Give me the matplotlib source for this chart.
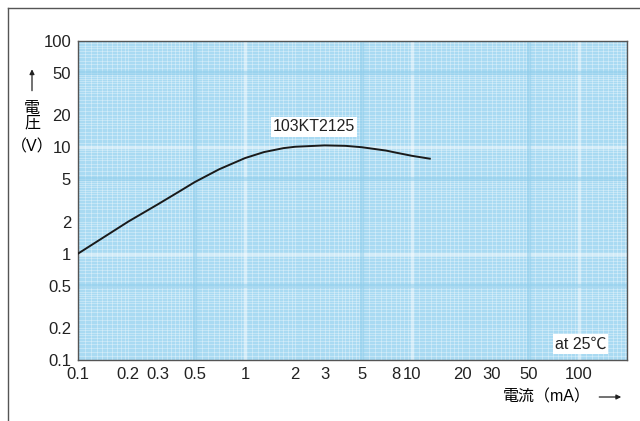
import matplotlib
matplotlib.use("Agg")
import matplotlib.pyplot as plt
import numpy as np
from matplotlib.lines import Line2D

plt.rcParams["font.family"] = ["Liberation Sans", "Noto Sans CJK JP", "DejaVu Sans"]

# current (mA) vs voltage (V)
current_ma = [0.1, 0.15, 0.2, 0.3, 0.4, 0.5, 0.7, 1.0, 1.3, 1.7, 2.0, 3.0, 4.0, 5.0, 7.0, 8.0, 10.0, 12.8]
voltage_v = [1.0, 1.5, 2.0, 2.9, 3.8, 4.7, 6.2, 7.9, 9.0, 9.8, 10.1, 10.4, 10.3, 10.0, 9.3, 8.9, 8.3, 7.8]

x_ticks = [0.1, 0.2, 0.3, 0.5, 1, 2, 3, 5, 8, 10, 20, 30, 50, 100]
x_labels = ["0.1", "0.2", "0.3", "0.5", "1", "2", "3", "5", "8", "10", "20", "30", "50", "100"]
y_ticks = [0.1, 0.2, 0.5, 1, 2, 5, 10, 20, 50, 100]
y_labels = ["0.1", "0.2", "0.5", "1", "2", "5", "10", "20", "50", "100"]

series_name = "103KT2125"
note = "at 25℃"

fig = plt.figure(figsize=(6.4, 4.21), dpi=100)
ax = fig.add_axes([0.122, 0.145, 0.858, 0.758])

ax.set_xscale("log")
ax.set_yscale("log")
ax.set_xlim(0.1, 195)
ax.set_ylim(0.1, 100)
ax.set_facecolor("#a9daf2")

# log paper look: fine lines inside each decade
fine = []
for dec in [0.1, 1, 10, 100]:
    fine += list(np.arange(1.1, 2.0, 0.1) * dec) + list(np.arange(2.0, 5.0, 0.2) * dec) + list(np.arange(5.0, 10.0, 0.5) * dec)
for v in fine:
    if 0.1 < v < 195:
        ax.axvline(v, color="white", lw=0.45, alpha=0.5, zorder=0)
    if 0.1 < v < 100:
        ax.axhline(v, color="white", lw=0.45, alpha=0.5, zorder=0)
for v in [1, 10, 100]:
    ax.axvline(v, color="white", lw=2.5, alpha=0.5, zorder=0)
for v in [1, 10]:
    ax.axhline(v, color="white", lw=2.5, alpha=0.5, zorder=0)
for v in [0.5, 5, 50]:
    ax.axvline(v, color="#8fcdeb", lw=3, alpha=0.5, zorder=0)
    ax.axhline(v, color="#8fcdeb", lw=3, alpha=0.5, zorder=0)

ax.plot(current_ma, voltage_v, color="#1a1a1a", lw=1.4, zorder=3)

ax.text(2.6, 15.5, series_name, fontsize=11.5, ha="center", va="center", zorder=4,
        color="#222222", bbox=dict(facecolor="white", edgecolor="none", pad=1.5))
ax.text(0.962, 0.05, note, transform=ax.transAxes, fontsize=11.5, ha="right", va="center",
        zorder=4, color="#222222", bbox=dict(facecolor="white", edgecolor="none", pad=1.5))

ax.set_xticks(x_ticks)
ax.set_xticklabels(x_labels)
ax.set_yticks(y_ticks)
ax.set_yticklabels(y_labels)
ax.minorticks_off()
ax.tick_params(length=0, labelsize=12, colors="#222222")
ax.tick_params(axis="x", pad=5)
ax.tick_params(axis="y", pad=5)
for s in ax.spines.values():
    s.set_color("#555555")
    s.set_linewidth(1.0)

# axis titles
fig.text(0.050, 0.743, "電", fontsize=11.5, ha="center", va="center")
fig.text(0.050, 0.707, "圧", fontsize=11.5, ha="center", va="center")
fig.text(0.050, 0.651, "（V）", fontsize=11.5, ha="center", va="center")
ax.annotate("", xy=(0.050, 0.842), xytext=(0.050, 0.778), xycoords="figure fraction",
            textcoords="figure fraction", annotation_clip=False,
            arrowprops=dict(arrowstyle="-|>", color="#222222", lw=0.9, mutation_scale=7))
fig.text(0.923, 0.057, "電流（mA）", fontsize=11.5, ha="right", va="center")
ax.annotate("", xy=(0.975, 0.057), xytext=(0.932, 0.057), xycoords="figure fraction",
            textcoords="figure fraction", annotation_clip=False,
            arrowprops=dict(arrowstyle="-|>", color="#222222", lw=0.9, mutation_scale=7))

# page frame
fig.add_artist(Line2D([0.013, 1.0], [0.981, 0.981], color="#555555", lw=1.0))
fig.add_artist(Line2D([0.013, 0.013], [0.0, 0.981], color="#555555", lw=1.0))

fig.savefig("out.png", dpi=100)
